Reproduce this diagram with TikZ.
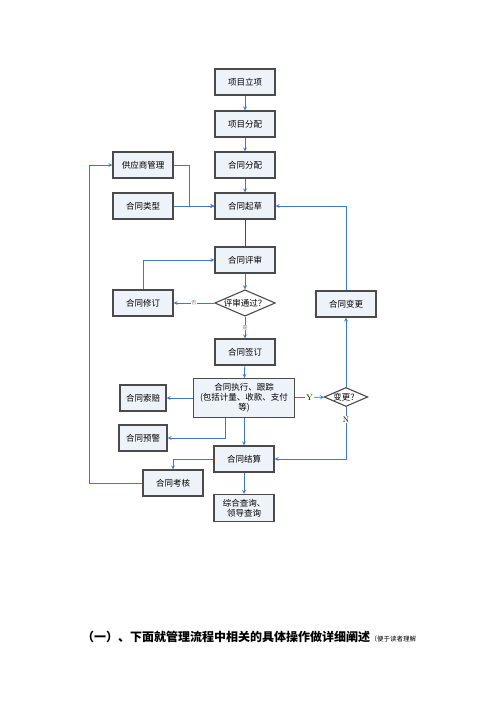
\documentclass[tikz,border=0pt]{standalone}
\usepackage{fontspec}
\newfontfamily\cjk{Noto Sans CJK SC}
\usetikzlibrary{shapes.geometric, arrows, positioning}
\definecolor{boxfill}{RGB}{238,242,249}
\definecolor{boxline}{RGB}{75,75,75}
\definecolor{linkblue}{RGB}{60,120,205}
\tikzstyle{process} = [rectangle, minimum width=60pt, minimum height=26pt, draw=boxline, line width=1.1pt, fill=boxfill, font=\cjk\fontsize{8.5}{10}\selectfont, inner sep=1pt]
\tikzstyle{decision} = [diamond, aspect=2.3, inner sep=0pt, draw=boxline, line width=1.1pt, fill=white, font=\cjk\fontsize{8.5}{10}\selectfont]
\tikzstyle{arrow} = [thick,->,>=stealth, draw=linkblue]
\tikzstyle{tag} = [font=\cjk\fontsize{5}{6}\selectfont, fill=white, inner sep=0.5pt, text=gray]
\begin{document}
\begin{tikzpicture}[x=1pt,y=-1pt]
\useasboundingbox[fill=white] (0,0) rectangle (500,707);
% main column
\node (lixiang) [process] at (245,82) {项目立项};
\node (xmfenpei) [process] at (245,124) {项目分配};
\node (htfenpei) [process] at (245,165) {合同分配};
\node (qicao) [process] at (245,206) {合同起草};
\node (gongying) [process] at (143,165) {供应商管理};
\node (leixing) [process] at (143,206) {合同类型};
\node (pingshen) [process] at (245,260) {合同评审};
\node (tongguo) [decision] at (245,303) {评审通过？};
\node (xiuding) [process] at (143,303) {合同修订};
\node (biangeng) [process] at (346,304) {合同变更};
\node (qianding) [process] at (245,352) {合同签订};
\node (zhixing) [process, minimum width=101pt, minimum height=39pt, text width=95pt, align=center] at (244,398) {合同执行、跟踪\\(包括计量、收款、支付\\等)};
\node (bgwen) [decision] at (346,397) {变更？};
\node (suopei) [process, minimum width=46pt] at (143,398) {合同索赔};
\node (yujing) [process, minimum width=48pt] at (143,438) {合同预警};
\node (jiesuan) [process] at (244,459) {合同结算};
\node (kaohe) [process] at (173,483) {合同考核};
\node (chaxun) [process, minimum height=27pt, align=center] at (244,508) {综合查询、\\领导查询};
% connectors
\draw[arrow] (lixiang) -- (xmfenpei);
\draw[arrow] (xmfenpei) -- (htfenpei);
\draw[arrow] (htfenpei) -- (qicao);
\draw[arrow] (gongying.east) -- ++(16,0) |- (qicao.west);
\draw[arrow] (leixing) -- (qicao);
\draw[thick, draw=boxline] (qicao) -- (pingshen);
\draw[arrow] (pingshen) -- (tongguo);
\draw[arrow] (tongguo) -- node[tag] {否} (xiuding);
\draw[arrow] (xiuding.north) |- (pingshen.west);
\draw[arrow] (tongguo) -- node[tag] {是} (qianding);
\draw[arrow] (qianding) -- (zhixing);
\draw[arrow] (zhixing) -- (suopei);
\draw[arrow] (zhixing) -- node[fill=white, inner sep=1pt, font=\fontsize{8}{9}\selectfont] {Y} (bgwen);
\draw[arrow] (bgwen) -- (biangeng);
\draw[arrow] (biangeng.north) |- (qicao.east);
\draw[arrow] (bgwen.south) |- (jiesuan.east) node[pos=0.12, fill=white, inner sep=1pt, font=\fontsize{8}{9}\selectfont] {N};
\draw[arrow] (zhixing) -- (jiesuan);
\draw[arrow] ([xshift=-19pt]zhixing.south) |- (yujing.east);
\draw[arrow] (jiesuan.west) -| (kaohe.north);
\draw[arrow] (kaohe.west) -- ++(-53,0) |- (gongying.west);
\draw[arrow] (jiesuan) -- (chaxun);
% caption
\node (caption) [anchor=base west, inner sep=0pt, font=\cjk\bfseries\fontsize{12}{14}\selectfont] at (82,641) {（一）、下面就管理流程中相关的具体操作做详细阐述};
\node (note) [anchor=base west, inner sep=0pt, font=\cjk\fontsize{6.5}{8}\selectfont] at (caption.base east) {（便于读者理解};
\end{tikzpicture}
\end{document}
